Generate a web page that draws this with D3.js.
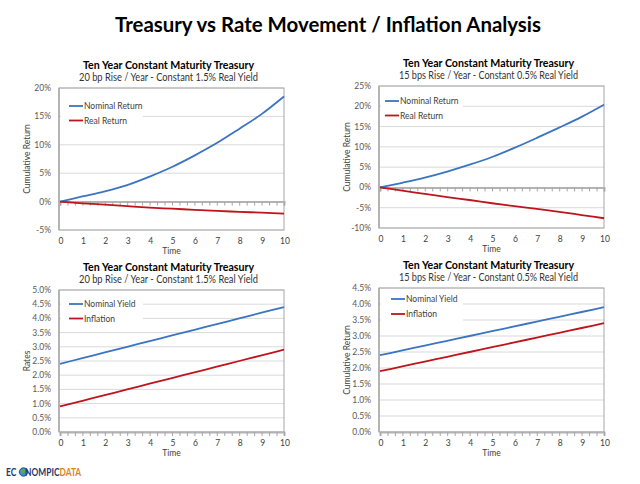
<!DOCTYPE html>
<html><head><meta charset="utf-8">
<title>Treasury vs Rate Movement / Inflation Analysis</title>
<script src="https://cdn.jsdelivr.net/npm/d3@7"></script>
<style>
body { margin: 0; background: #fff; }
svg text { font-family: Lato, "Open Sans", sans-serif; }
</style>
</head><body>
<svg id="chart" width="640" height="484"></svg>
<script>
// years on the x axis
var years = [0, 1, 2, 3, 4, 5, 6, 7, 8, 9, 10];

// top left: 20 bp rise, 1.5% real yield (cumulative return, %)
var nominalReturn20 = [0, 0.9, 1.8, 2.9, 4.4, 6.1, 8.1, 10.3, 12.8, 15.4, 18.5];
var realReturn20 = [0, -0.3, -0.55, -0.8, -1.05, -1.25, -1.45, -1.65, -1.8, -1.95, -2.1];

// top right: 15 bps rise, 0.5% real yield
var nominalReturn15 = [0, 1.15, 2.4, 3.9, 5.6, 7.5, 9.75, 12.2, 14.75, 17.4, 20.4];
var realReturn15 = [0, -0.8, -1.6, -2.4, -3.1, -3.9, -4.6, -5.3, -6.0, -6.8, -7.6];

// bottom left: rates (%)
var nominalYield20 = [2.4, 2.6, 2.8, 3.0, 3.2, 3.4, 3.6, 3.8, 4.0, 4.2, 4.4];
var inflation20 = [0.9, 1.1, 1.3, 1.5, 1.7, 1.9, 2.1, 2.3, 2.5, 2.7, 2.9];

// bottom right
var nominalYield15 = [2.4, 2.55, 2.7, 2.85, 3.0, 3.15, 3.3, 3.45, 3.6, 3.75, 3.9];
var inflation15 = [1.9, 2.05, 2.2, 2.35, 2.5, 2.65, 2.8, 2.95, 3.1, 3.25, 3.4];

// y tick labels
var returnTicks20 = [-5, 0, 5, 10, 15, 20];
var returnTicks15 = [-10, -5, 0, 5, 10, 15, 20, 25];
var rateTicks20 = [0, 0.5, 1, 1.5, 2, 2.5, 3, 3.5, 4, 4.5, 5];
var rateTicks15 = [0, 0.5, 1, 1.5, 2, 2.5, 3, 3.5, 4, 4.5];

var chartTitle = "Ten Year Constant Maturity Treasury";
var sub20 = "20 bp Rise / Year - Constant 1.5% Real Yield";
var sub15 = "15 bps Rise / Year - Constant 0.5% Real Yield";

var blue = "#3a74c2", red = "#c0141c";
var svg = d3.select("#chart");

svg.append("text").attr("x", 328).attr("y", 32)
  .attr("text-anchor", "middle").attr("font-size", 21).attr("font-weight", "bold")
  .attr("textLength", 426).attr("lengthAdjust", "spacingAndGlyphs")
  .text("Treasury vs Rate Movement / Inflation Analysis");

var drawPanel = function(p) {
  var g = svg.append("g");
  var x = d3.scaleLinear().domain([0, 10]).range([p.left + 1, p.right]);
  var y = d3.scaleLinear().domain(d3.extent(p.ticks)).range([p.bottom, p.top]);
  var fmt = p.rate ? function(d){ return d.toFixed(1) + "%"; } : function(d){ return d + "%"; };
  var cx = (p.left + p.right) / 2 - 3;

  g.append("text").attr("x", cx).attr("y", p.top - 19).attr("text-anchor", "middle")
    .attr("font-size", 11.5).attr("font-weight", "bold")
    .attr("textLength", 171).attr("lengthAdjust", "spacingAndGlyphs").text(chartTitle);
  g.append("text").attr("x", cx).attr("y", p.top - 7).attr("text-anchor", "middle")
    .attr("font-size", 10.5).attr("fill", "#333")
    .attr("textLength", 179).attr("lengthAdjust", "spacingAndGlyphs").text(p.sub);

  // gridlines
  g.selectAll(".grid").data(p.ticks).enter().append("line")
    .attr("x1", p.left).attr("x2", p.right)
    .attr("y1", function(d){ return y(d); }).attr("y2", function(d){ return y(d); })
    .attr("stroke", "#d9d9d9").attr("stroke-width", 1);

  // frame
  g.append("rect").attr("x", p.left).attr("y", p.top)
    .attr("width", p.right - p.left).attr("height", p.bottom - p.top)
    .attr("fill", "none").attr("stroke", "#a6a6a6").attr("stroke-width", 1);
  g.append("line").attr("x1", p.left).attr("x2", p.left).attr("y1", p.top).attr("y2", p.bottom)
    .attr("stroke", "#b3b3b3").attr("stroke-width", 2);

  // y tick labels
  g.selectAll(".yl").data(p.ticks).enter().append("text")
    .attr("x", p.left - 8).attr("y", function(d){ return y(d) + 3; })
    .attr("text-anchor", "end").attr("font-size", 8.5).attr("fill", "#595959")
    .text(fmt);

  // horizontal axis at zero with small ticks every third of a year
  var xAxis = d3.axisBottom(x).tickValues(d3.range(0, 31).map(function(i){ return i / 3; }))
    .tickSize(4).tickFormat("");
  var ax = g.append("g").attr("transform", "translate(0," + y(0) + ")").call(xAxis);
  ax.select(".domain").attr("stroke", "#b3b3b3").attr("stroke-width", 2);
  ax.selectAll(".tick line").attr("stroke", "#a6a6a6");

  g.selectAll(".xl").data(years).enter().append("text")
    .attr("x", function(d){ return x(d) + 1; }).attr("y", p.bottom + 14)
    .attr("text-anchor", "middle").attr("font-size", 8.5).attr("fill", "#404040")
    .text(function(d){ return d; });
  g.append("text").attr("x", cx + 3).attr("y", p.bottom + 23.5)
    .attr("text-anchor", "middle").attr("font-size", 8.5).attr("fill", "#404040").text("Time");

  g.append("text").attr("transform", "translate(" + (p.left - 29) + "," + ((p.top + p.bottom) / 2) + ") rotate(-90)")
    .attr("text-anchor", "middle").attr("font-size", 8.5).attr("fill", "#404040").text(p.ylabel);

  // legend box
  g.append("rect").attr("x", p.left + 2).attr("y", p.legY - 8)
    .attr("width", 82).attr("height", p.legGap + 16).attr("fill", "#fff");

  var line = d3.line().x(function(d, i){ return x(years[i]); }).y(function(d){ return y(d); })
    .curve(d3.curveMonotoneX);
  p.series.forEach(function(s, i) {
    g.append("path").datum(s.values).attr("d", line)
      .attr("fill", "none").attr("stroke", s.color).attr("stroke-width", 1.8);
    var ly = p.legY + i * p.legGap;
    g.append("line").attr("x1", p.left + p.legX).attr("x2", p.left + p.legX + 14)
      .attr("y1", ly).attr("y2", ly).attr("stroke", s.color).attr("stroke-width", 1.8);
    g.append("text").attr("x", p.left + p.legX + 15).attr("y", ly + 3)
      .attr("font-size", 8.5).attr("fill", "#404040").text(s.name);
  });
};

drawPanel({left: 59, right: 284, top: 88, bottom: 230, ticks: returnTicks20, sub: sub20,
  ylabel: "Cumulative Return", legX: 10, legY: 106, legGap: 14.5,
  series: [{name: "Nominal Return", values: nominalReturn20, color: blue},
           {name: "Real Return", values: realReturn20, color: red}]});
drawPanel({left: 379, right: 604, top: 86, bottom: 228, ticks: returnTicks15, sub: sub15,
  ylabel: "Cumulative Return", legX: 6, legY: 101, legGap: 14.5,
  series: [{name: "Nominal Return", values: nominalReturn15, color: blue},
           {name: "Real Return", values: realReturn15, color: red}]});
drawPanel({left: 59, right: 284, top: 290, bottom: 432, ticks: rateTicks20, sub: sub20, rate: true,
  ylabel: "Rates", legX: 10, legY: 304, legGap: 14.5,
  series: [{name: "Nominal Yield", values: nominalYield20, color: blue},
           {name: "Inflation", values: inflation20, color: red}]});
drawPanel({left: 379, right: 604, top: 288, bottom: 432, ticks: rateTicks15, sub: sub15, rate: true,
  ylabel: "Cumulative Return", legX: 12, legY: 299, legGap: 15,
  series: [{name: "Nominal Yield", values: nominalYield15, color: blue},
           {name: "Inflation", values: inflation15, color: red}]});

// site logo: one text, globe drawn in the gap of the "O"
var logo = svg.append("g");
logo.append("circle").attr("cx", 23.5).attr("cy", 472).attr("r", 4.2).attr("fill", "#3d8fd1")
  .attr("stroke", "#1f3a6e").attr("stroke-width", 0.8);
logo.append("path").attr("d", "M21 470 q2 -2 4 0 q1 2 -1 3 q-2 1 -3 -1 z").attr("fill", "#5cab3c");
var lt = logo.append("text").attr("transform", "translate(6,476) scale(0.8,1)")
  .attr("font-family", "'DejaVu Serif', serif").attr("font-weight", "bold").attr("font-size", 10.5);
lt.append("tspan").attr("fill", "#1f3a6e").text("EC");
lt.append("tspan").attr("dx", 11).attr("fill", "#1f3a6e").text("NOMPIC");
lt.append("tspan").attr("fill", "#d9861c").text("DATA");
</script>
</body></html>
